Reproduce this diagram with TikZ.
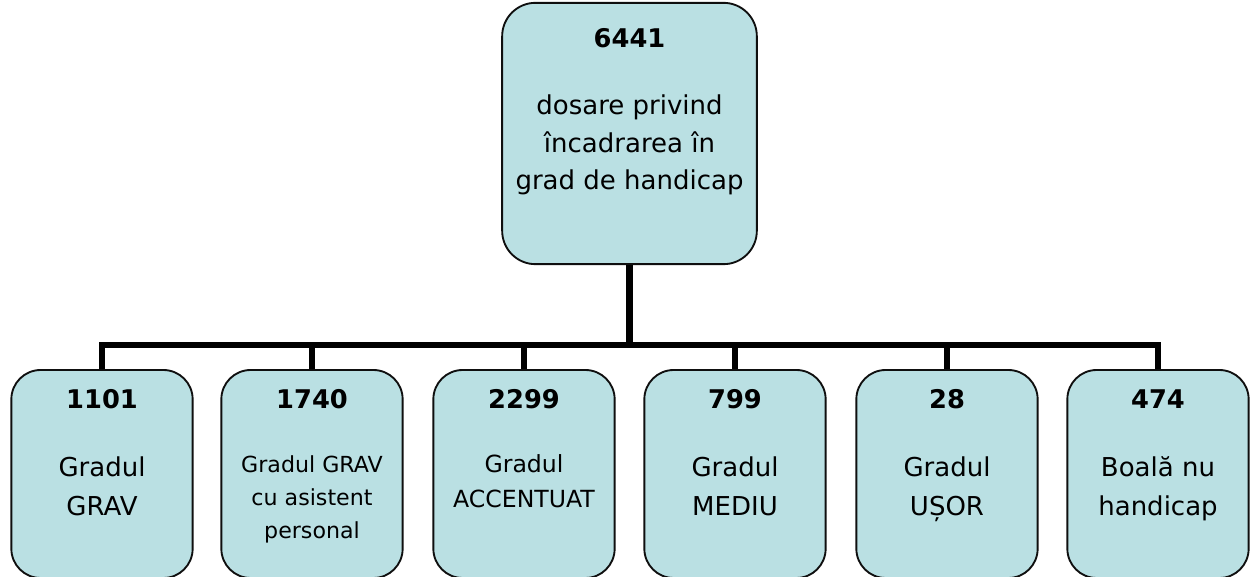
\documentclass[tikz,border=0pt]{standalone}
\usepackage{fontspec}
\setmainfont{DejaVu Sans}
\definecolor{boxfill}{RGB}{186,224,227}
\definecolor{boxline}{RGB}{15,15,15}
\tikzset{
  topbox/.style={draw=boxline, fill=boxfill, line width=1.4pt, rounded corners=25pt,
    minimum width=191pt, minimum height=196pt, inner sep=0pt},
  childbox/.style={draw=boxline, fill=boxfill, line width=1.4pt, rounded corners=22pt,
    minimum width=136pt, minimum height=156pt, inner sep=0pt},
  conn/.style={line width=4.6pt, draw=black},
  txt/.style={anchor=base, inner sep=0pt, text=black},
  numtxt/.style={txt, font=\bfseries\fontsize{19.3}{20}\selectfont},
  bigtxt/.style={txt, font=\fontsize{19.5}{20}\selectfont},
  midtxt/.style={txt, font=\fontsize{17.7}{20}\selectfont},
  smalltxt/.style={txt, font=\fontsize{16.6}{20}\selectfont},
}
\begin{document}
\begin{tikzpicture}[x=0.75pt, y=-0.75pt]
\useasboundingbox (0,0) rectangle (1254,577);
% top box
\node[topbox] (top) at (629.5,133.5) {};
\node[numtxt] (topn) at (629.5,48) {6441};
\node[bigtxt] (topa) at (629.5,115) {dosare privind};
\node[bigtxt] (topb) at (629.5,153) {încadrarea în};
\node[bigtxt] (topc) at (629.5,190) {grad de handicap};
% children
\node[childbox] (c1) at (102,474) {};
\node[childbox] (c2) at (312,474) {};
\node[childbox] (c3) at (524,474) {};
\node[childbox] (c4) at (735,474) {};
\node[childbox] (c5) at (947,474) {};
\node[childbox] (c6) at (1158,474) {};
% connectors
\coordinate (bus) at (629.5,345);
\draw[conn] (top.south) -- (bus);
\foreach \c in {c1,c2,c3,c4,c5,c6} {
  \draw[conn] (bus) -| (\c.north);
}
% child texts
\node[numtxt] (n1) at (102,408) {1101};
\node[bigtxt] (a1) at (102,476) {Gradul};
\node[bigtxt] (b1) at (102,515) {GRAV};

\node[numtxt] (n2) at (312,408) {1740};
\node[smalltxt] (a2) at (312,472) {Gradul GRAV};
\node[smalltxt] (b2) at (312,505) {cu asistent};
\node[smalltxt] (d2) at (312,538) {personal};

\node[numtxt] (n3) at (524,408) {2299};
\node[midtxt] (a3) at (524,473) {Gradul};
\node[midtxt] (b3) at (524,508) {ACCENTUAT};

\node[numtxt] (n4) at (735,408) {799};
\node[bigtxt] (a4) at (735,476) {Gradul};
\node[bigtxt] (b4) at (735,515) {MEDIU};

\node[numtxt] (n5) at (947,408) {28};
\node[bigtxt] (a5) at (947,476) {Gradul};
\node[bigtxt] (b5) at (947,515) {UȘOR};

\node[numtxt] (n6) at (1158,408) {474};
\node[bigtxt] (a6) at (1158,476) {Boală nu};
\node[bigtxt] (b6) at (1158,515) {handicap};
\end{tikzpicture}
\end{document}
